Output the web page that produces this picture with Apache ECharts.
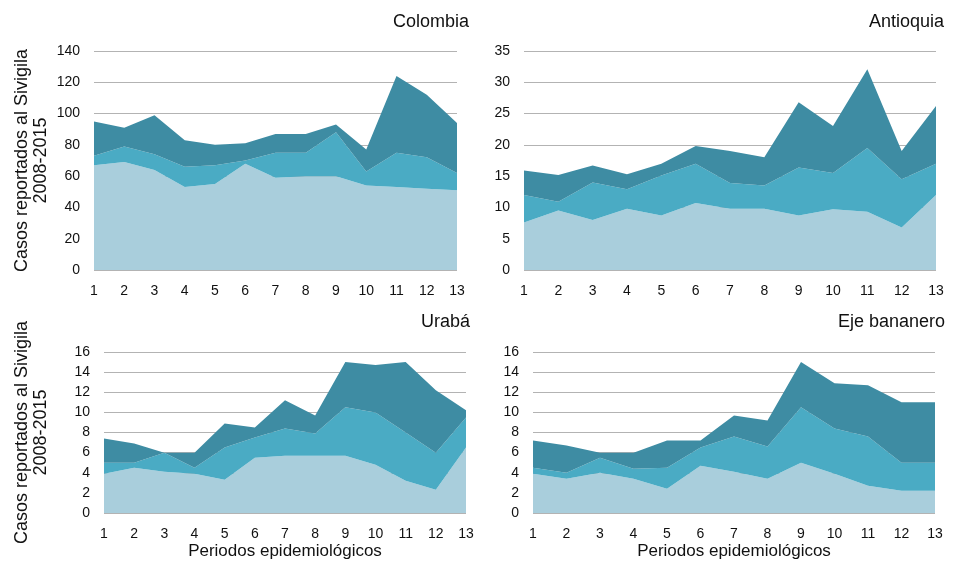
<!DOCTYPE html>
<html>
<head>
<meta charset="utf-8">
<script src="https://cdn.jsdelivr.net/npm/echarts@6/dist/echarts.min.js"></script>
<style>
  html, body { margin: 0; padding: 0; background: #fff; }
  #chart { width: 960px; height: 561px; }
</style>
</head>
<body>
<div id="chart"></div>
<script>
// Periodos epidemiológicos 1..13
const periods = ['1','2','3','4','5','6','7','8','9','10','11','12','13'];

// Colombia — three stacked components per period
const colombiaA = [67, 69, 64, 53, 55, 68, 59, 60, 60, 54, 53, 52, 51];
const colombiaB = [6, 10, 10, 13, 12, 2, 16, 15, 28, 9, 22, 20, 11];
const colombiaC = [22, 12, 25, 17, 13, 11, 12, 12, 5, 14, 49, 40, 32];

// Antioquia
const antioquiaA = [7.6, 9.5, 8.0, 9.8, 8.7, 10.7, 9.8, 9.8, 8.7, 9.7, 9.3, 6.8, 12.0];
const antioquiaB = [4.4, 1.4, 6.0, 3.1, 6.4, 6.3, 4.1, 3.7, 7.7, 5.8, 10.2, 7.7, 5.0];
const antioquiaC = [3.9, 4.3, 2.7, 2.4, 1.9, 2.8, 5.1, 4.5, 10.4, 7.5, 12.6, 4.5, 9.2];

// Urabá
const urabaA = [3.9, 4.5, 4.1, 3.9, 3.3, 5.5, 5.7, 5.7, 5.7, 4.8, 3.2, 2.3, 6.5];
const urabaB = [1.1, 0.5, 1.9, 0.6, 3.2, 2.0, 2.7, 2.2, 4.8, 5.2, 4.8, 3.7, 3.0];
const urabaC = [2.4, 1.9, 0.0, 1.5, 2.4, 1.0, 2.8, 1.8, 4.5, 4.7, 7.0, 6.2, 0.7];

// Eje bananero
const ejeA = [3.9, 3.4, 4.0, 3.4, 2.4, 4.7, 4.1, 3.4, 5.0, 3.9, 2.7, 2.2, 2.2];
const ejeB = [0.6, 0.6, 1.5, 1.0, 2.1, 1.8, 3.5, 3.2, 5.5, 4.5, 4.9, 2.8, 2.8];
const ejeC = [2.7, 2.7, 0.5, 1.6, 2.7, 0.7, 2.1, 2.6, 4.5, 4.5, 5.1, 6.0, 6.0];

// Panel settings: y-axis max and interval
const panelTitles = ['Colombia', 'Antioquia', 'Urabá', 'Eje bananero'];
const yMax = [140, 35, 16, 16];
const yStep = [20, 5, 2, 2];

const yName = 'Casos reportados al Sivigila\n2008-2015';
const xName = 'Periodos epidemiológicos';

const FONT = 'Liberation Sans, Arial, Helvetica, sans-serif';
const COLORS = ['#a9cedc', '#4aabc4', '#3e8ca3'];

const panelData = [
  [colombiaA, colombiaB, colombiaC],
  [antioquiaA, antioquiaB, antioquiaC],
  [urabaA, urabaB, urabaC],
  [ejeA, ejeB, ejeC]
];

const grids = [
  { left: 94,  top: 51,  width: 363, height: 219 },
  { left: 524, top: 51,  width: 412, height: 219 },
  { left: 104, top: 352, width: 362, height: 162 },
  { left: 533, top: 352, width: 402, height: 162 }
];

const titles = [
  { text: panelTitles[0], right: 486, top: 8 },
  { text: panelTitles[1], right: 11,  top: 8 },
  { text: panelTitles[2], right: 485, top: 308 },
  { text: panelTitles[3], right: 10,  top: 308 }
].map(t => Object.assign(t, {
  textStyle: { fontFamily: FONT, fontSize: 18, fontWeight: 'normal', color: '#111' }
}));

const xAxes = grids.map((g, i) => ({
  type: 'category',
  gridIndex: i,
  data: periods,
  boundaryGap: false,
  axisLine: { show: false },
  axisTick: { show: false },
  axisLabel: { fontFamily: FONT, fontSize: 14, color: '#111', margin: 14 },
  name: i >= 2 ? xName : '',
  nameLocation: 'middle',
  nameGap: 30,
  nameTextStyle: { fontFamily: FONT, fontSize: 17, color: '#111' }
}));

const yAxes = grids.map((g, i) => ({
  type: 'value',
  gridIndex: i,
  min: 0,
  max: yMax[i],
  interval: yStep[i],
  axisLine: { show: false },
  axisTick: { show: false },
  axisLabel: { fontFamily: FONT, fontSize: 14, color: '#111', margin: 14 },
  splitLine: { lineStyle: { color: '#b3b3b3', width: 1 } },
  name: (i === 0 || i === 2) ? yName : '',
  nameLocation: 'middle',
  nameGap: (i === 0) ? 43 : 53,
  nameTextStyle: { fontFamily: FONT, fontSize: 18, color: '#111', lineHeight: 19 }
}));

const series = [];
panelData.forEach((layers, p) => {
  layers.forEach((vals, k) => {
    series.push({
      type: 'line',
      xAxisIndex: p,
      yAxisIndex: p,
      stack: 'panel' + p,
      data: vals,
      symbol: 'none',
      lineStyle: { width: 0 },
      areaStyle: { color: COLORS[k], opacity: 1 },
      itemStyle: { color: COLORS[k] },
      silent: true,
      z: 2 + k
    });
  });
});

const chart = echarts.init(document.getElementById('chart'), null, { renderer: 'canvas' });
chart.setOption({
  animation: false,
  backgroundColor: '#ffffff',
  title: titles,
  grid: grids,
  xAxis: xAxes,
  yAxis: yAxes,
  series: series
});
</script>
</body>
</html>
